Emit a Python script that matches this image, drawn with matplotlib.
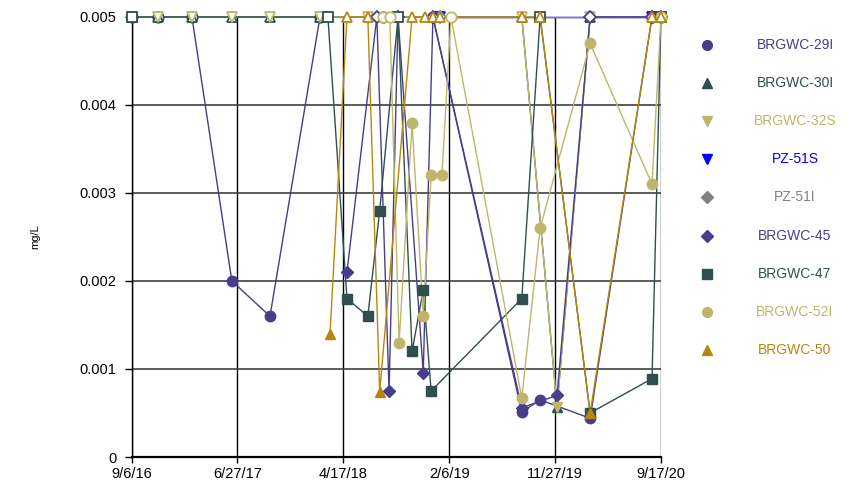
import matplotlib
matplotlib.use("Agg")
import matplotlib.pyplot as plt
import pandas as pd
import numpy as np

plt.rcParams['font.family'] = ['Liberation Sans', 'DejaVu Sans']

# ---------------- data ----------------
brgwc_29i_dates = ["2016-09-06", "2016-11-19", "2017-02-21", "2017-06-12", "2017-09-26",
                   "2018-02-12", "2018-08-06", "2018-12-23", "2019-08-27", "2019-10-17",
                   "2020-03-04", "2020-08-23", "2020-09-17"]
brgwc_29i_vals = [0.005, 0.005, 0.005, 0.002, 0.0016, 0.005, 0.005, 0.005, 0.00051, 0.00065,
                  0.00044, 0.005, 0.005]

brgwc_30i_dates = ["2016-09-06", "2016-11-19", "2017-02-21", "2017-06-12", "2017-09-26",
                   "2018-02-12", "2019-08-27", "2019-12-03", "2020-03-04", "2020-09-17"]
brgwc_30i_vals = [0.005, 0.005, 0.005, 0.005, 0.005, 0.005, 0.005, 0.00057, 0.005, 0.005]

brgwc_32s_dates = ["2016-09-06", "2016-11-19", "2017-02-21", "2017-06-12", "2017-09-26",
                   "2018-02-12", "2018-06-25", "2019-08-27", "2019-12-03", "2020-03-04",
                   "2020-09-17"]
brgwc_32s_vals = [0.005, 0.005, 0.005, 0.005, 0.005, 0.005, 0.005, 0.005, 0.00057, 0.005, 0.005]

pz_51s_dates = ["2019-01-11", "2020-08-23"]
pz_51s_vals = [0.005, 0.005]

pz_51i_dates = ["2019-01-11", "2020-08-23"]
pz_51i_vals = [0.005, 0.005]

brgwc_45_dates = ["2018-04-28", "2018-07-20", "2018-08-23", "2018-09-17", "2018-11-26",
                  "2018-12-23", "2019-08-27", "2019-12-03", "2020-03-04", "2020-08-23",
                  "2020-09-17"]
brgwc_45_vals = [0.0021, 0.005, 0.00075, 0.005, 0.00096, 0.005, 0.00056, 0.0007, 0.005, 0.005, 0.005]

brgwc_47_dates = ["2016-09-06", "2018-03-06", "2018-04-28", "2018-06-25", "2018-07-28",
                  "2018-09-17", "2018-10-26", "2018-11-26", "2018-12-18", "2019-08-27",
                  "2019-10-17", "2020-03-04", "2020-08-23", "2020-09-17"]
brgwc_47_vals = [0.005, 0.005, 0.0018, 0.0016, 0.0028, 0.005, 0.0012, 0.0019, 0.00075, 0.0018,
                 0.005, 0.0005, 0.00089, 0.005]

brgwc_52i_dates = ["2018-08-06", "2018-08-25", "2018-09-20", "2018-10-26", "2018-11-26",
                   "2018-12-18", "2019-01-17", "2019-02-11", "2019-08-27", "2019-10-17",
                   "2020-03-04", "2020-08-23", "2020-09-17"]
brgwc_52i_vals = [0.005, 0.005, 0.0013, 0.0038, 0.0016, 0.0032, 0.0032, 0.005, 0.00067, 0.0026,
                  0.0047, 0.0031, 0.005]

brgwc_50_dates = ["2018-03-12", "2018-04-28", "2018-06-25", "2018-07-28", "2018-10-26",
                  "2018-12-01", "2018-12-23", "2019-01-11", "2019-08-27", "2019-10-17",
                  "2020-03-04", "2020-08-23", "2020-09-17"]
brgwc_50_vals = [0.0014, 0.005, 0.005, 0.00074, 0.005, 0.005, 0.005, 0.005, 0.005, 0.005,
                 0.0005, 0.005, 0.005]

series_names = ["BRGWC-29I", "BRGWC-30I", "BRGWC-32S", "PZ-51S", "PZ-51I",
                "BRGWC-45", "BRGWC-47", "BRGWC-52I", "BRGWC-50"]
series_dates = [brgwc_29i_dates, brgwc_30i_dates, brgwc_32s_dates, pz_51s_dates, pz_51i_dates,
                brgwc_45_dates, brgwc_47_dates, brgwc_52i_dates, brgwc_50_dates]
series_vals = [brgwc_29i_vals, brgwc_30i_vals, brgwc_32s_vals, pz_51s_vals, pz_51i_vals,
               brgwc_45_vals, brgwc_47_vals, brgwc_52i_vals, brgwc_50_vals]

x_tick_dates = ["2016-09-06", "2017-06-27", "2018-04-17", "2019-02-06", "2019-11-27", "2020-09-17"]
x_tick_labels = ["9/6/16", "6/27/17", "4/17/18", "2/6/19", "11/27/19", "9/17/20"]
y_ticks = [0, 0.001, 0.002, 0.003, 0.004, 0.005]
y_tick_labels = ["0", "0.001", "0.002", "0.003", "0.004", "0.005"]
y_label = "mg/L"
reporting_limit = 0.005

# ---------------- styles ----------------
colors = ["#483D8B", "#2F4F4F", "#BDB76B", "#0000FF", "#808080",
          "#483D8B", "#2F4F4F", "#BDB76B", "#B8860B"]
markers = ["o", "^", "v", "v", "D", "D", "s", "o", "^"]
msizes = [7.5, 7.5, 7.5, 7.5, 6, 6, 7, 7.5, 7.5]

fig = plt.figure(figsize=(8.6, 4.9), dpi=100)
L, R, T, B = 131.5, 661, 17, 457
ax = fig.add_axes([L / 860, 1 - B / 490, (R - L) / 860, (B - T) / 490])

for name, d, v, c, m, ms in zip(series_names, series_dates, series_vals, colors, markers, msizes):
    dt = pd.to_datetime(d)
    v = np.array(v)
    ax.plot(dt, v, color=c, lw=1.0, zorder=3, clip_on=False)
    nd = v >= reporting_limit
    ax.plot(dt[~nd], v[~nd], ls="none", marker=m, ms=ms, color=c, mec=c, mfc=c,
            zorder=4, clip_on=False)
    ax.plot(dt[nd], v[nd], ls="none", marker=m, ms=ms, color=c, mec=c, mfc="white",
            mew=1.3, zorder=4, clip_on=False)

xt = pd.to_datetime(x_tick_dates)
ax.set_xlim(xt[0], xt[-1])
ax.set_ylim(0, 0.005)
ax.set_xticks(xt)
ax.set_xticklabels(x_tick_labels, fontsize=10.5)
ax.set_yticks(y_ticks)
ax.set_yticklabels(y_tick_labels, fontsize=10.5)
ax.tick_params(axis="y", direction="out", length=5, width=1, color="black", pad=6)
ax.tick_params(axis="x", direction="out", length=4, width=1, color="black", pad=3)
ax.grid(axis="x", color="black", lw=1.0, zorder=1)
ax.grid(axis="y", color="#404040", lw=1.2, zorder=1)
for s in ["top", "right"]:
    ax.spines[s].set_visible(False)
ax.spines["left"].set_color("black")
ax.spines["left"].set_linewidth(1.0)
ax.spines["bottom"].set_color("black")
ax.spines["bottom"].set_linewidth(1.6)
ax.set_ylabel(y_label, fontsize=8, labelpad=28)

# ---------------- legend ----------------
lax = fig.add_axes([0, 0, 1, 1])
lax.set_xlim(0, 860)
lax.set_ylim(490, 0)
lax.axis("off")
leg_y0, leg_dy = 45, 38.1
for i, (name, c, m) in enumerate(zip(series_names, colors, markers)):
    yy = leg_y0 + i * leg_dy
    lax.plot([707], [yy], ls="none", marker=m, ms=7 if m != "D" else 6, color=c)
    lax.text(795, yy, name, color=c, fontsize=10, ha="center", va="center")

fig.savefig("out.png", dpi=100)
